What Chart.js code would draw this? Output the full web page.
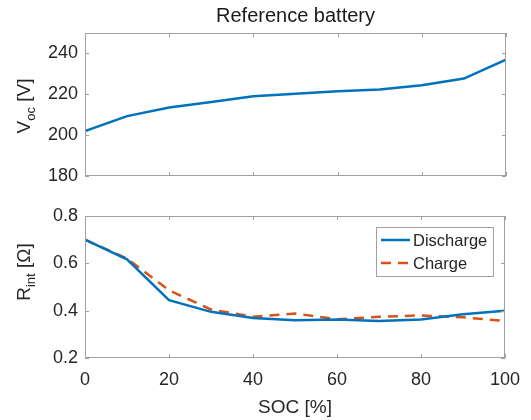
<!DOCTYPE html>
<html>
<head>
<meta charset="utf-8">
<script src="https://cdn.jsdelivr.net/npm/chart.js@4.4.1/dist/chart.umd.min.js"></script>
<style>
  html, body { margin: 0; padding: 0; background: #fff; }
  #wrap { position: relative; width: 531px; height: 420px; }
  #vocChart { position: absolute; left: 0; top: 0; }
  #rintChart { position: absolute; left: 0; top: 195px; }
</style>
</head>
<body>
<div id="wrap">
  <canvas id="vocChart" width="531" height="195"></canvas>
  <canvas id="rintChart" width="531" height="225"></canvas>
</div>
<script>
// values
const soc = [0, 10, 20, 30, 40, 50, 60, 70, 80, 90, 100];
const voc = [202, 209.3, 213.5, 216.2, 219, 220.3, 221.5, 222.3, 224.4, 227.7, 237];
const rDischarge = [0.70, 0.617, 0.444, 0.395, 0.369, 0.359, 0.363, 0.356, 0.363, 0.385, 0.40];
const rCharge = [0.70, 0.62, 0.486, 0.405, 0.374, 0.388, 0.364, 0.374, 0.38, 0.372, 0.356];

const socTicks = [0, 20, 40, 60, 80, 100];
const vocTicks = [180, 200, 220, 240];
const rTicks = [0.2, 0.4, 0.6, 0.8];

const FONT = '"Liberation Sans", Arial, Helvetica, sans-serif';
const TEXT = '#262626';
const BOX = '#a0a0a0';
const BLUE = '#0072BD';
const ORANGE = '#D95319';

const points = (ys) => soc.map((s, i) => ({ x: s, y: ys[i] }));

function pieceFont(p) {
    return (p.sub ? 13 : 19) + 'px ' + FONT;
}

// rotated y label with a subscript part
function drawRotatedLabel(ctx, pieces, x, cy) {
    ctx.save();
    ctx.translate(x, cy);
    ctx.rotate(-Math.PI / 2);
    let total = 0;
    pieces.forEach(p => {
        ctx.font = pieceFont(p);
        total += ctx.measureText(p.t).width;
    });
    let pos = -total / 2;
    ctx.fillStyle = TEXT;
    ctx.textAlign = 'left';
    ctx.textBaseline = 'alphabetic';
    pieces.forEach(p => {
        ctx.font = pieceFont(p);
        ctx.fillText(p.t, pos, p.sub ? 5 : 0);
        pos += ctx.measureText(p.t).width;
    });
    ctx.restore();
}

// matlab-ish box, inward ticks, titles and legend
const matlabFrame = {
    id: 'matlabFrame',
    afterDraw(chart, args, opts) {
        const { ctx, chartArea: a, scales } = chart;
        const len = 4;

        ctx.save();
        ctx.strokeStyle = BOX;
        ctx.lineWidth = 1;
        ctx.strokeRect(a.left + 0.5, a.top + 0.5, a.width - 1, a.height - 1);

        ctx.beginPath();
        scales.x.ticks.forEach(t => {
            const px = Math.round(scales.x.getPixelForValue(t.value)) + 0.5;
            ctx.moveTo(px, a.bottom);
            ctx.lineTo(px, a.bottom - len);
            ctx.moveTo(px, a.top);
            ctx.lineTo(px, a.top + len);
        });
        scales.y.ticks.forEach(t => {
            const py = Math.round(scales.y.getPixelForValue(t.value)) + 0.5;
            ctx.moveTo(a.left, py);
            ctx.lineTo(a.left + len, py);
            ctx.moveTo(a.right, py);
            ctx.lineTo(a.right - len, py);
        });
        ctx.stroke();

        if (opts.title) {
            ctx.fillStyle = '#1a1a1a';
            ctx.font = '20px ' + FONT;
            ctx.textAlign = 'center';
            ctx.textBaseline = 'alphabetic';
            ctx.fillText(opts.title, (a.left + a.right) / 2, opts.titleY);
        }

        if (opts.xLabel) {
            ctx.fillStyle = TEXT;
            ctx.font = '19px ' + FONT;
            ctx.textAlign = 'center';
            ctx.textBaseline = 'alphabetic';
            ctx.fillText(opts.xLabel, (a.left + a.right) / 2, opts.xLabelY);
        }

        if (opts.yLabel) {
            drawRotatedLabel(ctx, opts.yLabel, opts.yLabelX, opts.yLabelY);
        }

        if (opts.legend) {
            const w = 117, h = 49;
            const left = a.right - 129, top = a.top + 11;
            ctx.fillStyle = '#fff';
            ctx.fillRect(left, top, w, h);
            ctx.strokeStyle = BOX;
            ctx.strokeRect(left + 0.5, top + 0.5, w, h);
            chart.data.datasets.forEach((ds, i) => {
                const y = top + 13 + i * 23;
                ctx.save();
                ctx.strokeStyle = ds.borderColor;
                ctx.lineWidth = ds.borderWidth;
                ctx.setLineDash(ds.borderDash || []);
                ctx.beginPath();
                ctx.moveTo(left + 5, y);
                ctx.lineTo(left + 34, y);
                ctx.stroke();
                ctx.restore();
                ctx.fillStyle = TEXT;
                ctx.font = '16.5px ' + FONT;
                ctx.textAlign = 'left';
                ctx.textBaseline = 'middle';
                ctx.fillText(ds.label, left + 37, y + 1);
            });
        }
        ctx.restore();
    }
};

function yScale(min, max, ticks, fmt) {
    return {
        min, max,
        grid: { display: false, drawTicks: false },
        border: { display: false },
        ticks: {
            color: TEXT,
            font: { family: FONT, size: 18 },
            padding: 7,
            callback: fmt
        },
        afterBuildTicks: s => { s.ticks = ticks.map(v => ({ value: v })); },
        afterFit: s => { s.width = 85; }
    };
}

function xScale(showLabels, height) {
    return {
        type: 'linear',
        min: 0, max: 100,
        grid: { display: false, drawTicks: false },
        border: { display: false },
        ticks: {
            display: showLabels,
            color: TEXT,
            font: { family: FONT, size: 18 },
            padding: 11,
            maxRotation: 0
        },
        afterBuildTicks: s => { s.ticks = socTicks.map(v => ({ value: v })); },
        afterFit: s => { s.height = height; }
    };
}

new Chart(document.getElementById('vocChart'), {
    type: 'line',
    data: {
        datasets: [{
            label: 'Voc',
            data: points(voc),
            borderColor: BLUE,
            borderWidth: 2.5,
            pointRadius: 0,
            tension: 0
        }]
    },
    options: {
        responsive: false,
        animation: false,
        devicePixelRatio: 1,
        layout: { padding: { top: 33, right: 25, left: 0, bottom: 0 } },
        plugins: {
            legend: { display: false },
            tooltip: { enabled: false },
            matlabFrame: {
                title: 'Reference battery',
                titleY: 22,
                yLabel: [{ t: 'V' }, { t: 'oc', sub: true }, { t: ' [V]' }],
                yLabelX: 30,
                yLabelY: 106
            }
        },
        scales: {
            x: xScale(false, 19),
            y: yScale(180, 250, vocTicks, v => String(v))
        }
    },
    plugins: [matlabFrame]
});

new Chart(document.getElementById('rintChart'), {
    type: 'line',
    data: {
        datasets: [{
            label: 'Discharge',
            data: points(rDischarge),
            borderColor: BLUE,
            borderWidth: 2.5,
            pointRadius: 0,
            tension: 0
        }, {
            label: 'Charge',
            data: points(rCharge),
            borderColor: ORANGE,
            borderWidth: 2.5,
            borderDash: [10, 7],
            pointRadius: 0,
            tension: 0
        }]
    },
    options: {
        responsive: false,
        animation: false,
        devicePixelRatio: 1,
        layout: { padding: { top: 21, right: 25, left: 0, bottom: 0 } },
        plugins: {
            legend: { display: false },
            tooltip: { enabled: false },
            matlabFrame: {
                xLabel: 'SOC [%]',
                xLabelY: 218,
                yLabel: [{ t: 'R' }, { t: 'int', sub: true }, { t: ' [\u03A9]' }],
                yLabelX: 30,
                yLabelY: 77,
                legend: true
            }
        },
        scales: {
            x: xScale(true, 62),
            y: yScale(0.2, 0.8, rTicks, v => v.toFixed(1))
        }
    },
    plugins: [matlabFrame]
});
</script>
</body>
</html>
